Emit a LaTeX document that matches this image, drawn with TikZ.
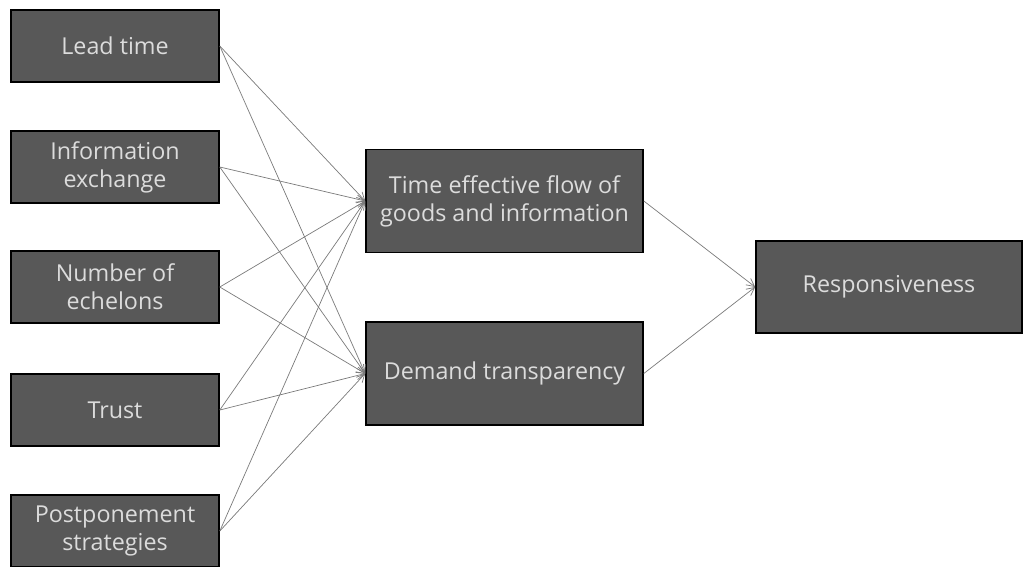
\documentclass[tikz,border=0pt]{standalone}
\usepackage{fontspec}
\setmainfont{Open Sans}
\usetikzlibrary{arrows.meta}
\definecolor{boxfill}{HTML}{585858}
\definecolor{boxtext}{HTML}{DCDCDC}
\definecolor{linkgray}{HTML}{7A7A7A}
\begin{document}
\begin{tikzpicture}[x=1pt,y=-1pt,
  box/.style={draw=black, line width=1.6pt, fill=boxfill, text=boxtext,
    align=center, inner sep=0pt, font=\fontsize{23.3}{28}\selectfont},
  leftbox/.style={box, minimum width=208pt, minimum height=72pt},
  midbox/.style={box, minimum width=277pt, minimum height=103pt},
  link/.style={draw=linkgray, line width=0.7pt, -{Straight Barb[length=8pt,width=8pt]}}]
\useasboundingbox (0,0) rectangle (1025,566);
\node[leftbox] (lead) at (115,46) {Lead time};
\node[leftbox] (info) at (115,167) {Information\\exchange};
\node[leftbox] (ech) at (115,287) {Number of\\echelons};
\node[leftbox] (trust) at (115,410) {Trust};
\node[leftbox] (post) at (115,531) {Postponement\\strategies};
\node[midbox] (time) at (504.5,201) {Time effective flow of\\goods and information};
\node[midbox] (dem) at (504.5,373.5) {Demand transparency};
\node[box, minimum width=266pt, minimum height=92pt] (resp) at (889,287) {Responsiveness};
\foreach \s in {lead,info,ech,trust,post}{
  \draw[link] (\s.east) -- (time.west);
  \draw[link] (\s.east) -- (dem.west);
}
\draw[link] (time.east) -- (resp.west);
\draw[link] (dem.east) -- (resp.west);
\end{tikzpicture}
\end{document}
